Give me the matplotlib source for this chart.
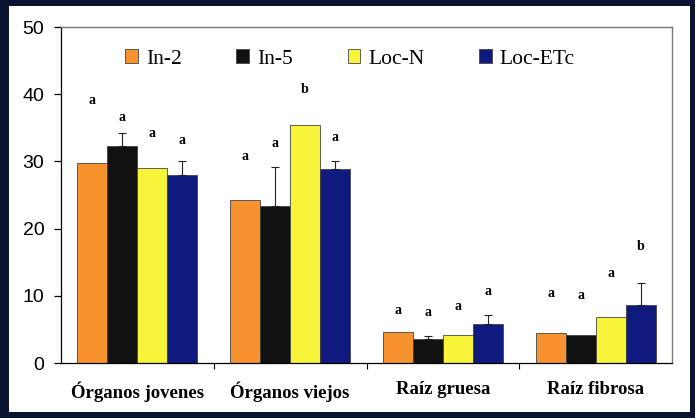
import numpy as np
import matplotlib.pyplot as plt
from matplotlib.patches import Rectangle

# Data
categories = ['Órganos jovenes', 'Órganos viejos', 'Raíz gruesa', 'Raíz fibrosa']
series = ['In-2', 'In-5', 'Loc-N', 'Loc-ETc']
in2 = [29.7, 24.2, 4.6, 4.5]
in5 = [32.3, 23.3, 3.6, 4.2]
locn = [29.0, 35.4, 4.2, 6.9]
locetc = [28.0, 28.8, 5.8, 8.7]
err_in2 = [0, 0, 0, 0]
err_in5 = [2.0, 5.8, 0.4, 0]
err_locn = [0, 0, 0, 0]
err_locetc = [2.0, 1.3, 1.4, 3.2]
# significance letters and the height they sit at
letters = [['a', 'a', 'a', 'a'],
           ['a', 'a', 'b', 'a'],
           ['a', 'a', 'a', 'a'],
           ['a', 'a', 'a', 'b']]
letter_y = [[39.0, 36.6, 34.2, 33.1],
            [30.7, 32.7, 40.7, 33.6],
            [7.8, 7.5, 8.4, 10.7],
            [10.3, 10.1, 13.3, 17.3]]

colors = ['#f7932e', '#111111', '#f8f43a', '#0e1a7e']
values = [in2, in5, locn, locetc]
errors = [err_in2, err_in5, err_locn, err_locetc]

fig = plt.figure(figsize=(6.95, 4.18), dpi=100)
fig.patch.set_facecolor('#0a1430')
# white panel of the slide
panel = Rectangle((9/695, 6/418), 681/695, 406/418, transform=fig.transFigure,
                  facecolor='white', edgecolor='none', zorder=-10)
fig.add_artist(panel)

ax = fig.add_axes([61/695, 55/418, 611/695, 336/418])
ax.set_facecolor('white')

x = np.arange(len(categories))
w = 0.196
for i in range(4):
    pos = x + (i - 1.5) * w
    ax.bar(pos, values[i], w, color=colors[i], edgecolor='#444444', linewidth=0.6,
           label=series[i], zorder=2)
    e = np.array(errors[i])
    m = e > 0
    ax.errorbar(pos[m], np.array(values[i])[m], yerr=[np.zeros(m.sum()), e[m]],
                fmt='none', ecolor='#222222', elinewidth=0.8, capsize=3, capthick=0.8, zorder=3)

for g in range(4):
    for i in range(4):
        ax.text(x[g] + (i - 1.5) * w, letter_y[g][i], letters[g][i], ha='center', va='center',
                fontsize=10, fontweight='bold', family='Liberation Serif')

ax.set_xlim(-0.5, 3.5)
ax.set_ylim(0, 50)
ax.set_yticks([0, 10, 20, 30, 40, 50])
ax.tick_params(axis='y', length=5, width=0.9, pad=7, labelsize=14)
for lab in ax.get_yticklabels():
    lab.set_family('Liberation Sans')
ax.set_xticks(x)
ax.set_xticklabels(categories, fontsize=13.5, fontweight='bold', family='Liberation Serif')
ax.set_xticks([0.5, 1.5, 2.5], minor=True)
ax.tick_params(axis='x', which='major', length=0, pad=13)
ax.tick_params(axis='x', which='minor', length=4, width=0.8, direction='out')

for s in ['left', 'bottom']:
    ax.spines[s].set_color('black')
    ax.spines[s].set_linewidth(0.9)
for s in ['top', 'right']:
    ax.spines[s].set_color('#777777')
    ax.spines[s].set_linewidth(1.0)

leg = ax.legend(loc='center', bbox_to_anchor=(0.473, 0.905), ncol=4, frameon=False,
                prop={'family': 'Liberation Serif', 'size': 15.5},
                handlelength=0.6, handleheight=0.6, handletextpad=0.35, columnspacing=2.55)

fig.savefig('out.png', dpi=100, facecolor=fig.get_facecolor())
